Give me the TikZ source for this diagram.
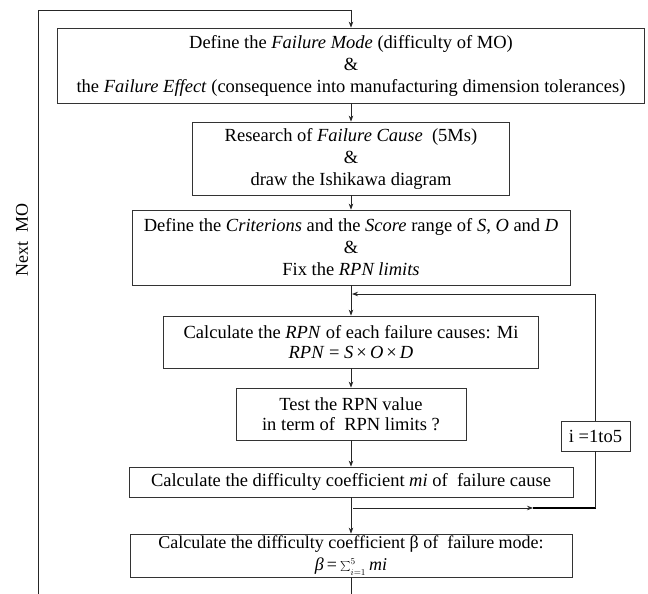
\documentclass[tikz,border=0pt]{standalone}
\usepackage{fontspec}
\setmainfont{Liberation Serif}
\usetikzlibrary{arrows.meta}
\begin{document}
\begin{tikzpicture}[x=1pt,y=-1pt,
  box/.style={draw=black!80, line width=0.8pt, align=center, inner sep=0pt,
    font=\fontsize{18.5}{22}\selectfont},
  box2l/.style={box, font=\fontsize{18.5}{20}\selectfont},
  arr/.style={-{Stealth[length=6pt,width=4.5pt]}, line width=0.8pt, draw=black!85},
  ln/.style={line width=0.8pt, draw=black!85}]
\useasboundingbox (0,0) rectangle (648,594);
\node[box, minimum width=587pt, minimum height=75pt] (b1) at (351,65.5)
  {Define the \textit{Failure Mode} (difficulty of MO)\\ \&\\ the \textit{Failure Effect} (consequence into manufacturing dimension tolerances)};
\node[box, minimum width=317pt, minimum height=73pt] (b2) at (351,158.5)
  {Research of \textit{Failure Cause}\ \ (5Ms)\\ \&\\ draw the Ishikawa diagram};
\node[box, minimum width=438pt, minimum height=75pt] (b3) at (351,247.5)
  {Define the \textit{Criterions} and the \textit{Score} range of \textit{S}, \textit{O} and \textit{D}\\ \&\\ Fix the \textit{RPN limits}};
\node[box2l, minimum width=375pt, minimum height=52pt] (b4) at (351,342)
  {Calculate the \textit{RPN} of each failure causes: Mi\\ \textit{RPN} = \textit{S}\,×\,\textit{O}\,×\,\textit{D}};
\node[box2l, minimum width=230pt, minimum height=52pt] (b5) at (351,414)
  {Test the RPN value\\ in term of\ \ RPN limits ?};
\node[box, minimum width=69pt, minimum height=30pt] (b6) at (595.5,436)
  {i =1to5};
\node[box, minimum width=444pt, minimum height=30pt] (b7) at (351,482)
  {Calculate the difficulty coefficient \textit{mi} of\ \ failure cause};
\node[box, font=\fontsize{18}{21}\selectfont, minimum width=442pt, minimum height=43pt] (b8) at (351,555.5)
  {Calculate the difficulty coefficient β of\ \ failure mode:\\[1.5pt] \textit{β}\,=\,$\sum\nolimits_{\scriptscriptstyle i=1}^{\scriptscriptstyle 5}$\,\textit{mi}};
\node[rotate=90, font=\fontsize{18}{20}\selectfont] (nm) at (22,240) {Next\ \ MO};
\coordinate (tl) at (38,10);
\coordinate (bl) at (38,594);
\coordinate (tm) at (351,10);
\coordinate (j) at (352,294);
\coordinate (h1) at (353,508);
\coordinate (h2) at (533,508);
\coordinate (h3) at (595.5,508);
\coordinate (end) at (351,594);
\draw[ln] (bl) -- (tl) -- (tm);
\draw[arr] (tm) -- (b1.north);
\draw[arr] (b1.south) -- (b2.north);
\draw[arr] (b2.south) -- (b3.north);
\draw[arr] (b3.south) -- (b4.north);
\draw[arr] (b6.north) |- (j);
\draw[arr] (b4.south) -- (b5.north);
\draw[arr] (b5.south) -- (b7.north);
\draw[arr] (b7.south) -- (b8.north);
\draw[arr] (h1) -- (h2);
\draw[line width=1.6pt] (h2) -- (h3);
\draw[ln] (h3) -- (b6.south);
\draw[ln] (b8.south) -- (end);
\end{tikzpicture}
\end{document}
